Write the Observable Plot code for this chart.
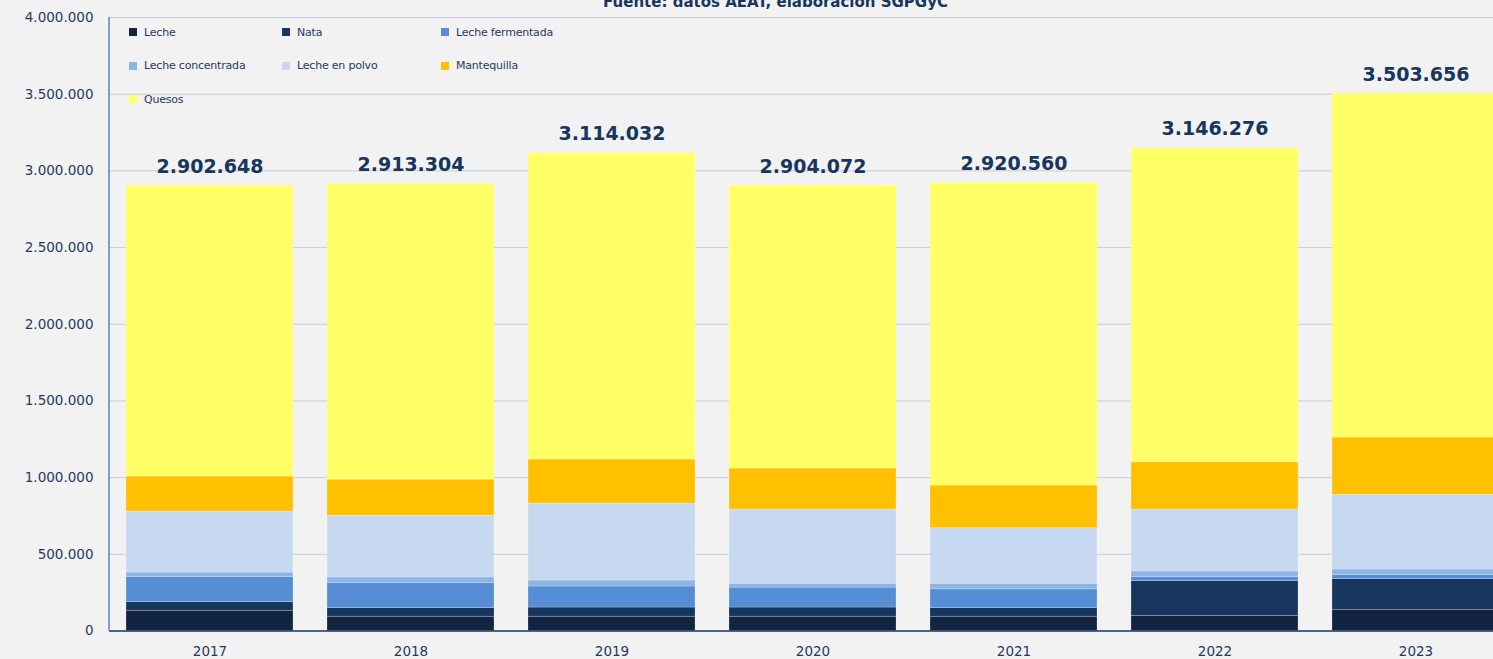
<!DOCTYPE html>
<html>
<head>
<meta charset="utf-8">
<script src="https://cdn.jsdelivr.net/npm/d3@7"></script>
<script src="https://cdn.jsdelivr.net/npm/@observablehq/plot@0.6"></script>
<style>
  html, body { margin: 0; padding: 0; background: #f2f2f2; overflow: hidden; }
  #wrap { position: relative; width: 1493px; height: 659px; font-family: "DejaVu Sans", sans-serif; }
  #legend { position: absolute; left: 129px; top: 25px; display: grid;
    grid-template-columns: 153px 159px 200px; grid-auto-rows: 33.5px; }
  .item { display: flex; align-items: center; height: 14px; font-size: 11px; color: #1f3a60; letter-spacing: -0.2px; }
  .sw { width: 8px; height: 8px; margin-right: 7px; flex: none; }
</style>
</head>
<body>
<div id="wrap"><div id="legend"></div></div>
<script>
const years = ["2017", "2018", "2019", "2020", "2021", "2022", "2023"];
const categories = ["Leche", "Nata", "Leche fermentada", "Leche concentrada", "Leche en polvo", "Mantequilla", "Quesos"];
const colors = ["#12243f", "#17365d", "#558ed5", "#8db4e2", "#c6d9f1", "#ffc000", "#ffff66"];
const leche       = [132000,  93000,  93000,  93000,  93000,  99000, 138000];
const nata        = [ 56000,  56000,  60000,  60000,  56000, 226000, 200000];
const fermentada  = [163000, 165000, 137000, 130000, 123000,  26000,  26000];
const concentrada = [ 30000,  35000,  39000,  25000,  36000,  37000,  37000];
const polvo       = [398000, 402000, 502000, 484000, 362000, 404000, 487000];
const mantequilla = [228000, 236000, 287000, 267000, 278000, 308000, 373000];
const quesos      = [1895648, 1926304, 1996032, 1845072, 1972560, 2046276, 2242656];
const totals      = [2902648, 2913304, 3114032, 2904072, 2920560, 3146276, 3503656];
const yTicks = [0, 500000, 1000000, 1500000, 2000000, 2500000, 3000000, 3500000, 4000000];
const title = "Fuente: datos AEAT, elaboración SGPGyC";

const series = [leche, nata, fermentada, concentrada, polvo, mantequilla, quesos];
const data = [];
years.forEach((yr, i) => categories.forEach((c, j) => data.push({year: yr, cat: c, value: series[j][i]})));
const totalData = years.map((yr, i) => ({year: yr, total: totals[i]}));

const fmt = d3.formatLocale({decimal: ",", thousands: ".", grouping: [3], currency: ["", ""]}).format(",d");
const navy = "#1f3a60";

const yAxisLine = (index, scales, values, dims) => {
  const g = d3.create("svg:line")
    .attr("x1", dims.marginLeft).attr("x2", dims.marginLeft)
    .attr("y1", dims.marginTop).attr("y2", dims.height - dims.marginBottom)
    .attr("stroke", "#7b9fd2").attr("stroke-width", 2);
  return g.node();
};

const chart = Plot.plot({
  width: 1493,
  height: 659,
  marginLeft: 109,
  marginRight: 0,
  marginTop: 17,
  marginBottom: 28.5,
  style: {background: "transparent", fontFamily: "DejaVu Sans, sans-serif", overflow: "hidden"},
  x: {domain: years, range: [109, 1516], paddingInner: 0.17, paddingOuter: 0.085, label: null},
  y: {domain: [0, 4000000], label: null},
  color: {domain: categories, range: colors},
  marks: [
    Plot.gridY(yTicks, {stroke: "#c5cddb", strokeOpacity: 1, strokeWidth: 1}),
    Plot.barY(data, {x: "year", y: "value", fill: "cat", stroke: "#ffffff", strokeOpacity: 0.3, strokeWidth: 0.7}),
    Plot.ruleY([0], {stroke: "#1f3864", strokeWidth: 1.6}),
    yAxisLine,
    Plot.axisY({ticks: yTicks, tickFormat: fmt, tickSize: 0, tickPadding: 16, fontSize: 13.5, fill: navy, label: null}),
    Plot.axisX({tickSize: 0, tickPadding: 15, fontSize: 13.5, fill: navy, label: null}),
    Plot.text(totalData, {x: "year", y: "total", text: d => fmt(d.total), lineAnchor: "bottom", dy: -13,
      fontSize: 19, fontWeight: "bold", fill: "#17365d"}),
    Plot.text([title], {frameAnchor: "top", lineAnchor: "bottom", dy: -11, dx: -26, fontSize: 15, fontWeight: "bold", fill: "#17365d"})
  ]
});
document.getElementById("wrap").prepend(chart);

const legend = document.getElementById("legend");
categories.forEach((c, i) => {
  const it = document.createElement("div");
  it.className = "item";
  it.innerHTML = `<span class="sw" style="background:${colors[i]}"></span><span>${c}</span>`;
  legend.appendChild(it);
});
</script>
</body>
</html>
